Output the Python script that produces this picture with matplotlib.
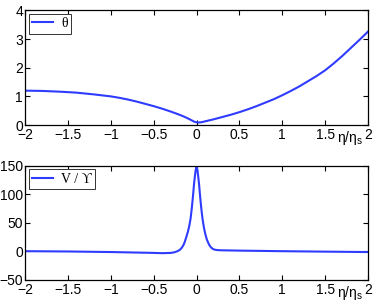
import matplotlib
matplotlib.use("Agg")
import matplotlib.pyplot as plt
import matplotlib.transforms as mtransforms

# theta curve (top panel)
theta_x = [-2.0, -1.8, -1.6, -1.4, -1.2, -1.0, -0.9, -0.8, -0.7, -0.6, -0.5, -0.4, -0.3, -0.2, -0.15, -0.1, -0.06, -0.03, 0.0, 0.03, 0.06, 0.1, 0.2, 0.3, 0.4, 0.5, 0.6, 0.7, 0.8, 0.9, 1.0, 1.1, 1.2, 1.3, 1.4, 1.5, 1.6, 1.7, 1.8, 1.9, 2.0]
theta_y = [1.20, 1.19, 1.165, 1.13, 1.07, 1.00, 0.95, 0.89, 0.82, 0.74, 0.66, 0.57, 0.47, 0.36, 0.30, 0.23, 0.17, 0.12, 0.095, 0.09, 0.10, 0.13, 0.20, 0.28, 0.36, 0.45, 0.55, 0.66, 0.78, 0.90, 1.04, 1.19, 1.35, 1.53, 1.71, 1.91, 2.15, 2.41, 2.69, 2.97, 3.26]

# V / Upsilon curve (bottom panel)
v_x = [-2.0, -1.5, -1.0, -0.5, -0.4, -0.3, -0.26, -0.23, -0.21, -0.19, -0.17, -0.15, -0.137, -0.12, -0.1, -0.086, -0.07, -0.058, -0.048, -0.039, -0.03, -0.02, -0.01, 0.0, 0.01, 0.02, 0.03, 0.039, 0.048, 0.058, 0.07, 0.086, 0.1, 0.12, 0.137, 0.15, 0.17, 0.19, 0.21, 0.24, 0.28, 0.35, 0.5, 1.0, 1.5, 2.0]
v_y = [0.5, 0.0, -1.0, -2.5, -3.0, -2.5, -1.5, 0.0, 1.5, 3.5, 7.0, 12.0, 17.0, 25.0, 35.0, 44.0, 57.0, 72.0, 87.0, 101.0, 117.0, 131.0, 143.0, 148.0, 143.0, 131.0, 117.0, 101.0, 87.0, 72.0, 57.0, 42.0, 32.0, 21.0, 15.0, 11.0, 7.0, 4.5, 3.2, 2.5, 2.1, 1.9, 1.5, 0.5, -0.3, -1.0]

xticks = [-2, -1.5, -1, -0.5, 0, 0.5, 1, 1.5, 2]
xticklabels = ["\u22122", "\u22121.5", "\u22121", "\u22120.5", "0", "0.5", "1", "1.5", "2"]
top_yticks = [0, 1, 2, 3, 4]
bot_yticks = [-50, 0, 50, 100, 150]
bot_yticklabels = ["\u221250", "0", "50", "100", "150"]

plt.rcParams['font.family'] = ['Liberation Sans', 'DejaVu Sans']
plt.rcParams['font.size'] = 10

fig = plt.figure(figsize=(3.74, 3.05), dpi=100)
ax1 = fig.add_axes([0.067, 0.590, 0.917, 0.376])
ax2 = fig.add_axes([0.067, 0.082, 0.917, 0.374])

color = '#2f3cff'

ax1.plot(theta_x, theta_y, color=color, lw=1.5, label='\u03b8')
ax1.set_xlim(-2, 2)
ax1.set_ylim(0, 4)
ax1.set_yticks(top_yticks)

ax2.plot(v_x, v_y, color=color, lw=1.5, label='V / \u03d2')
ax2.set_xlim(-2, 2)
ax2.set_ylim(-50, 150)
ax2.set_yticks(bot_yticks)
ax2.set_yticklabels(bot_yticklabels)

for ax in (ax1, ax2):
    ax.set_xticks(xticks)
    ax.set_xticklabels(xticklabels)
    ax.tick_params(direction='in', top=True, right=True, length=3.5, width=0.8, pad=1.5, labelsize=10)
    ax.tick_params(axis='x', pad=2.2)
    for s in ax.spines.values():
        s.set_linewidth(0.9)
    leg = ax.legend(loc='upper left', fancybox=False, edgecolor='#333333', framealpha=1,
                    prop={'family': ['Liberation Serif', 'DejaVu Serif'], 'size': 10}, handlelength=1.5,
                    handletextpad=0.6, borderpad=0.25, borderaxespad=0.25)
    leg.get_frame().set_linewidth(0.7)
    trans = mtransforms.blended_transform_factory(ax.transData, ax.transAxes)
    ax.text(1.94, -0.035, '$\\mathregular{\u03b7/\u03b7_s}$', transform=trans, ha='right', va='top', fontsize=10)

fig.savefig('out.png', dpi=100)
